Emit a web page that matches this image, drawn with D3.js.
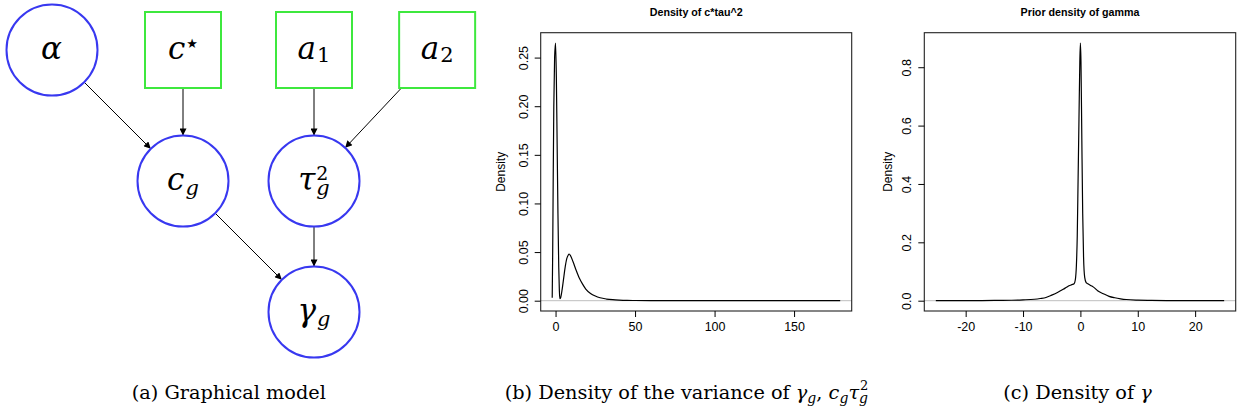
<!DOCTYPE html>
<html>
<head>
<meta charset="utf-8">
<script src="https://cdn.jsdelivr.net/npm/d3@7"></script>
<style>
  body { margin: 0; background: #fff; }
  svg { display: block; }
</style>
</head>
<body>
<script>

  // graphical model
  var nodeIds   = ["alpha", "cstar", "a1", "a2", "cg", "tau", "gamma"];
  var nodeKinds = ["random", "fixed", "fixed", "fixed", "random", "random", "random"];
  var nodeCols  = [0, 1, 2, 2.94, 1, 2, 2];
  var nodeRows  = [0, 0, 0, 0, 1, 1, 2];
  var edges = [["alpha", "cg"], ["cstar", "cg"], ["a1", "tau"], ["a2", "tau"], ["cg", "gamma"], ["tau", "gamma"]];

  // (b) density of c*tau^2
  var varX = [-2.1, -1.8, -1.5, -1.1, -0.6, 0, 0.5, 1.0, 1.5, 2.0, 2.4, 2.7, 3.2, 4, 5, 6, 7, 8, 8.5, 9.5, 11, 13, 15, 17, 19, 22, 25, 28, 32, 36, 40, 45, 50, 60, 80, 100, 130, 160, 179];
  var varY = [0.003, 0.05, 0.12, 0.2, 0.25, 0.265, 0.23, 0.16, 0.09, 0.035, 0.01, 0.002, 0.003, 0.01, 0.022, 0.034, 0.043, 0.047, 0.048, 0.046, 0.040, 0.031, 0.023, 0.017, 0.012, 0.0075, 0.0048, 0.003, 0.0017, 0.001, 0.0006, 0.0003, 0.0002, 0.0001, 0.00005, 0.00002, 0.00001, 0.000005, 0.000002];
  var varXTicks = [0, 50, 100, 150];
  var varYTicks = [0, 0.05, 0.10, 0.15, 0.20, 0.25];

  // (c) prior density of gamma
  var gamX = [-25.2, -20, -15, -12, -10, -8, -7, -6, -5, -4, -3, -2.5, -2, -1.5, -1.1, -0.9, -0.7, -0.55, -0.4, -0.25, -0.1, 0, 0.1, 0.25, 0.4, 0.55, 0.75, 1.0, 1.3, 2, 2.5, 3, 4, 5, 6, 7, 8, 10, 12, 15, 20, 25.06];
  var gamY = [0.0001, 0.0003, 0.0008, 0.0015, 0.0028, 0.005, 0.0075, 0.011, 0.019, 0.028, 0.039, 0.045, 0.051, 0.055, 0.058, 0.07, 0.12, 0.22, 0.42, 0.62, 0.82, 0.883, 0.82, 0.55, 0.3, 0.15, 0.08, 0.062, 0.058, 0.05, 0.043, 0.034, 0.024, 0.015, 0.01, 0.0065, 0.004, 0.0018, 0.0009, 0.0004, 0.0001, 0.00005];
  var gamXTicks = [-20, -10, 0, 10, 20];
  var gamYTicks = [0, 0.2, 0.4, 0.6, 0.8];

  var SANS = "'Liberation Sans', Arial, Helvetica, sans-serif";
  var SERIF = "'DejaVu Serif', serif";

  var svg = d3.select("body").append("svg")
      .attr("width", 1238)
      .attr("height", 415);

  svg.append("defs").append("marker")
      .attr("id", "arrow")
      .attr("viewBox", "0 0 10 10")
      .attr("refX", 10).attr("refY", 5)
      .attr("markerUnits", "userSpaceOnUse")
      .attr("markerWidth", 9).attr("markerHeight", 7)
      .attr("orient", "auto")
    .append("path")
      .attr("d", "M0,0 L10,5 L0,10 z")
      .attr("fill", "#000");

  // ---- graphical model ----
  var col = d3.scaleLinear().domain([0, 1]).range([52, 183]);
  var row = d3.scaleLinear().domain([0, 1]).range([50, 181]);
  var R = 45.5, H = 38;

  var nodes = nodeIds.map(function(id, i) {
    return { id: id, kind: nodeKinds[i], x: col(nodeCols[i]), y: row(nodeRows[i]) };
  });
  var byId = {};
  nodes.forEach(function(n) { byId[n.id] = n; });

  function border(n, dx, dy) {
    var len = Math.sqrt(dx * dx + dy * dy);
    if (n.kind == "random") return [n.x + R * dx / len, n.y + R * dy / len];
    var t = H / Math.max(Math.abs(dx), Math.abs(dy));
    return [n.x + dx * t, n.y + dy * t];
  }

  var gm = svg.append("g");

  gm.selectAll("line.edge")
    .data(edges)
    .enter().append("line")
      .attr("class", "edge")
      .each(function(e) {
        var s = byId[e[0]], t = byId[e[1]];
        var a = border(s, t.x - s.x, t.y - s.y);
        var b = border(t, s.x - t.x, s.y - t.y);
        d3.select(this)
          .attr("x1", a[0]).attr("y1", a[1])
          .attr("x2", b[0]).attr("y2", b[1]);
      })
      .attr("stroke", "#000")
      .attr("stroke-width", 1)
      .attr("marker-end", "url(#arrow)");

  gm.selectAll("circle")
    .data(nodes.filter(function(n) { return n.kind == "random"; }))
    .enter().append("circle")
      .attr("cx", function(d) { return d.x; })
      .attr("cy", function(d) { return d.y; })
      .attr("r", R)
      .attr("fill", "none")
      .attr("stroke", "#3838f0")
      .attr("stroke-width", 2);

  gm.selectAll("rect")
    .data(nodes.filter(function(n) { return n.kind == "fixed"; }))
    .enter().append("rect")
      .attr("x", function(d) { return d.x - H; })
      .attr("y", function(d) { return d.y - H; })
      .attr("width", 2 * H).attr("height", 2 * H)
      .attr("fill", "none")
      .attr("stroke", "#3ee83e")
      .attr("stroke-width", 2);

  // labels: main symbol, optional sub / sup (one text each, so tau's stack lines up)
  var labels = {
    alpha: { m: "α" },
    cstar: { m: "c", sup: "★", supStyle: "star" },
    a1:    { m: "a", sub: "1", subUp: true },
    a2:    { m: "a", sub: "2", subUp: true },
    cg:    { m: "c", sub: "g" },
    tau:   { m: "τ", sub: "g", sup: "2" },
    gamma: { m: "γ", sub: "g" }
  };

  nodes.forEach(function(n) {
    var L = labels[n.id];
    var g = gm.append("g").attr("transform", "translate(" + n.x + "," + (n.y + 9) + ")");
    var t = g.append("text")
      .attr("font-family", SERIF)
      .attr("font-size", 31)
      .attr("font-style", "italic")
      .attr("fill", "#000")
      .text(L.m);
    var mw = t.node().getComputedTextLength();
    var extra = 0, parts = [];
    if (L.sub) {
      parts.push(g.append("text")
        .attr("font-family", SERIF)
        .attr("font-size", 21)
        .attr("font-style", L.subUp ? "normal" : "italic")
        .attr("y", L.subUp ? 3 : 5)
        .text(L.sub));
    }
    if (L.sup) {
      parts.push(g.append("text")
        .attr("font-family", L.supStyle == "star" ? "'DejaVu Sans', sans-serif" : SERIF)
        .attr("font-size", L.supStyle == "star" ? 13 : 19)
        .attr("y", L.supStyle == "star" ? -11 : -10)
        .text(L.sup));
    }
    parts.forEach(function(p) {
      extra = Math.max(extra, p.node().getComputedTextLength());
    });
    var total = mw + 1 + extra;
    t.attr("x", -total / 2);
    parts.forEach(function(p) { p.attr("x", -total / 2 + mw + 1); });
  });

  // ---- density plots ----
  function rangePad(ext) {
    var d = (ext[1] - ext[0]) * 0.04;
    return [ext[0] - d, ext[1] + d];
  }

  function densityPlot(o) {
    var x = d3.scaleLinear().domain(rangePad(d3.extent(o.xs))).range([o.left, o.right]);
    var y = d3.scaleLinear().domain(rangePad([0, d3.max(o.ys)])).range([o.bottom, o.top]);
    var g = svg.append("g").attr("font-family", SANS);

    g.append("text")
      .attr("x", (o.left + o.right) / 2)
      .attr("y", 15.5)
      .attr("text-anchor", "middle")
      .attr("font-size", 10.7)
      .attr("font-weight", "bold")
      .text(o.title);

    g.append("line")
      .attr("x1", o.left).attr("x2", o.right)
      .attr("y1", y(0)).attr("y2", y(0))
      .attr("stroke", "#bebebe")
      .attr("stroke-width", 1);

    var pts = o.xs.map(function(v, i) { return [v, o.ys[i]]; });
    g.append("path")
      .datum(pts)
      .attr("fill", "none")
      .attr("stroke", "#000")
      .attr("stroke-width", 1.2)
      .attr("stroke-linejoin", "round")
      .attr("d", d3.line()
        .x(function(d) { return x(d[0]); })
        .y(function(d) { return y(d[1]); })
        .curve(d3.curveMonotoneX));

    g.append("rect")
      .attr("x", o.left).attr("y", o.top)
      .attr("width", o.right - o.left).attr("height", o.bottom - o.top)
      .attr("fill", "none")
      .attr("stroke", "#222")
      .attr("stroke-width", 1.1);

    // R prints a plain hyphen for negatives
    var xa = g.append("g")
      .attr("transform", "translate(0," + o.bottom + ")")
      .call(d3.axisBottom(x).tickValues(o.xTicks).tickSize(6).tickFormat(function(d) { return String(d); }))
      .attr("font-family", SANS)
      .attr("font-size", 12.5);
    xa.select(".domain").remove();
    xa.selectAll("text").attr("y", 11).attr("fill", "#000");
    xa.selectAll("line").attr("stroke", "#000");

    var ya = g.append("g")
      .attr("transform", "translate(" + o.left + ",0)")
      .call(d3.axisLeft(y).tickValues(o.yTicks).tickSize(6).tickFormat(d3.format(o.yFmt)))
      .attr("font-family", SANS)
      .attr("font-size", 12.5);
    ya.select(".domain").remove();
    ya.selectAll("text")
      .attr("x", null).attr("dy", null)
      .attr("transform", "translate(-13,0) rotate(-90)")
      .attr("text-anchor", "middle")
      .attr("fill", "#000");
    ya.selectAll("line").attr("stroke", "#000");

    g.append("text")
      .attr("transform", "translate(" + o.ylabX + "," + ((o.top + o.bottom) / 2) + ") rotate(-90)")
      .attr("text-anchor", "middle")
      .attr("font-size", 12)
      .text("Density");
  }

  densityPlot({ xs: varX, ys: varY, xTicks: varXTicks, yTicks: varYTicks, yFmt: ".2f",
    left: 540.7, right: 851.7, top: 32.7, bottom: 311, ylabX: 504.5, title: "Density of c*tau^2" });

  densityPlot({ xs: gamX, ys: gamY, xTicks: gamXTicks, yTicks: gamYTicks, yFmt: ".1f",
    left: 924.3, right: 1235.7, top: 32.7, bottom: 311, ylabX: 891.5, title: "Prior density of gamma" });

  // ---- captions ----
  var cap = svg.append("g")
    .attr("font-family", SERIF)
    .attr("font-size", 19.3)
    .attr("fill", "#000");

  cap.append("text").attr("x", 228.8).attr("y", 399).attr("text-anchor", "middle").text("(a) Graphical model");

  var cb = cap.append("text").attr("x", 686.5).attr("y", 399).attr("text-anchor", "middle");
  cb.append("tspan").text("(b) Density of the variance of ");
  cb.append("tspan").attr("font-style", "italic").text("γ");
  cb.append("tspan").attr("font-style", "italic").attr("font-size", 14).attr("dy", 4).text("g");
  cb.append("tspan").attr("dy", -4).text(", ");
  cb.append("tspan").attr("font-style", "italic").text("c");
  cb.append("tspan").attr("font-style", "italic").attr("font-size", 14).attr("dy", 4).text("g");
  cb.append("tspan").attr("font-style", "italic").attr("dy", -4).text("τ");
  cb.append("tspan").attr("font-style", "italic").attr("font-size", 14).attr("dy", 4).text("g");
  cb.append("tspan").attr("font-size", 13).attr("dx", -8).attr("dy", -13).text("2");

  var cc = cap.append("text").attr("x", 1077.5).attr("y", 399).attr("text-anchor", "middle");
  cc.append("tspan").text("(c) Density of ");
  cc.append("tspan").attr("font-style", "italic").text("γ");

</script>
</body>
</html>
